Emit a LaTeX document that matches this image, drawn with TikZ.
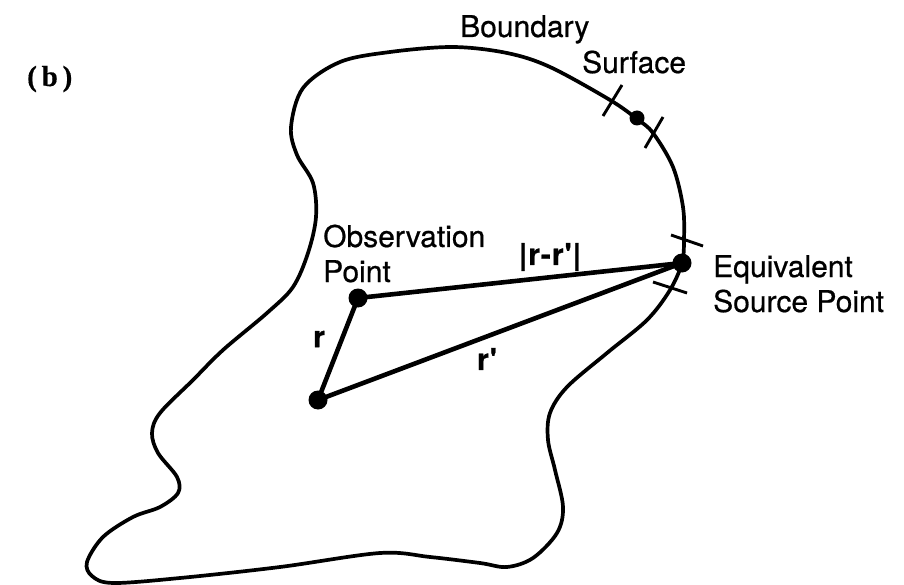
\documentclass[tikz,border=0pt]{standalone}
\usepackage{fontspec}
\setmainfont{TeX Gyre Heros}[FakeBold=0.6,BoldFeatures={FakeBold=0.8}]
\newfontfamily\serifb{Liberation Serif}[BoldFeatures={FakeBold=0.6}]
\begin{document}
\begin{tikzpicture}[x=1pt,y=-1pt,
  boundary/.style={line width=3.7pt,line join=round},
  radius/.style={line width=4.6pt,line cap=round},
  tick/.style={line width=2.9pt},
  dot/.style={circle,fill=black,draw=none,inner sep=0pt,minimum size=#1},
  dot/.default=19pt,
  lbl/.style={inner sep=0pt,anchor=base west,font=\fontsize{30}{35}\selectfont},
  vec/.style={inner sep=0pt,font=\fontsize{30}{35}\selectfont\bfseries}]
\useasboundingbox (0,0) rectangle (904,585);
% boundary surface
\draw[boundary] plot[smooth cycle,tension=0.55] coordinates {
 (453,47) (507,53) (550,67) (610,100) (637,119) (653,133) (673,167)
 (683,207) (684,240) (682,263) (670,290) (647,320) (607,353) (567,387)
 (550,413) (548,440) (555,470) (563,507) (557,533) (533,558) (507,567)
 (480,563) (430,557) (380,553) (280,567) (180,578) (113,583) (92,576)
 (87,562) (103,537) (133,517) (160,507) (178,493) (177,477) (158,453)
 (152,433) (160,413) (193,380) (223,350) (267,313) (293,287) (308,253)
 (316,217) (313,183) (297,155) (291,127) (303,88) (340,62) (390,52)};
% points
\node[dot] (obs) at (358,298) {};
\node[dot] (src) at (318,400) {};
\node[dot] (eq) at (682,263) {};
\node[dot=15pt] (sdot) at (637,118) {};
% vectors
\draw[radius] (src.center) -- (obs.center);
\draw[radius] (obs.center) -- (eq.center);
\draw[radius] (src.center) -- (eq.center);
% ticks
\coordinate (t1a) at (603,116); \coordinate (t1b) at (622,85);
\coordinate (t2a) at (645,148); \coordinate (t2b) at (663,117);
\coordinate (t3a) at (671,235); \coordinate (t3b) at (703,246);
\coordinate (t4a) at (653,282); \coordinate (t4b) at (687,293);
\draw[tick] (t1a) -- (t1b);
\draw[tick] (t2a) -- (t2b);
\draw[tick] (t3a) -- (t3b);
\draw[tick] (t4a) -- (t4b);
% labels
\node[inner sep=0pt,anchor=base west,font=\fontsize{29}{32}\selectfont\serifb\bfseries] (b) at (27,86) {(\,b\,)};
\node[lbl] (bl1) at (460,37) {Boundary};
\node[lbl] (bl2) at (582,73) {Surface};
\node[lbl] (ol1) at (323,247) {Observation};
\node[lbl] (ol2) at (323,282) {Point};
\node[lbl] (el1) at (713,277) {Equivalent};
\node[lbl] (el2) at (713,312) {Source Point};
\node[vec] (rr) at (550,257) {|\kern1pt r\kern1pt-\kern1pt r\kern1pt\textquotesingle\kern1pt|};
\node[vec] (r) at (319,339) {r};
\node[vec] (rp) at (487,359) {r\kern1pt\textquotesingle};
\end{tikzpicture}
\end{document}
